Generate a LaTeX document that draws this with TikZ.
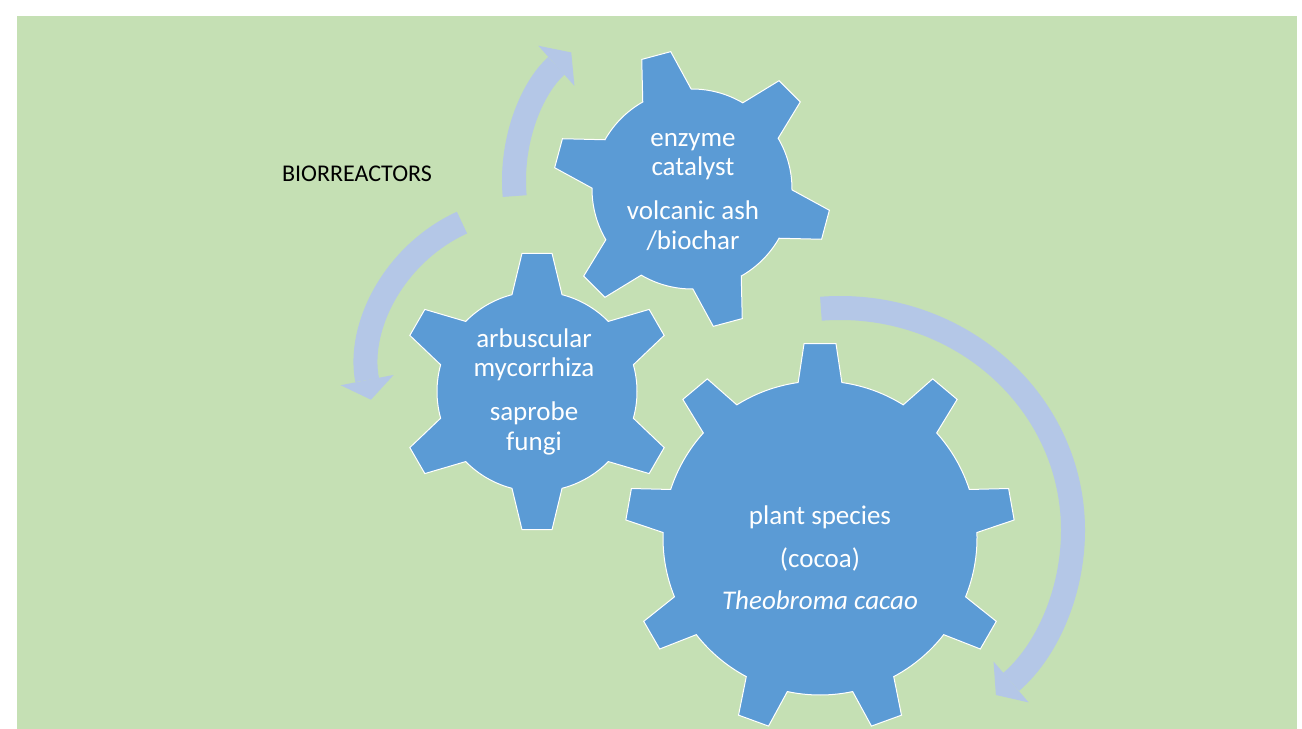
\documentclass[tikz,border=0pt]{standalone}
\usepackage{fontspec}
\setmainfont{Carlito}
\usepackage{tikz}
\usetikzlibrary{arrows.meta}

\definecolor{leaf}{HTML}{C5E0B4}
\definecolor{cog}{HTML}{5B9BD5}
\definecolor{flow}{HTML}{B4C7E7}

% cog outline: #1 teeth, #2 body radius, #3 tip radius,
% #4 half-angle at the root, #5 half-angle at the tip, #6 angle of the first tooth
\newcommand{\cogpath}[6]{%
  ({#6-#4}:#2)
  \foreach \k in {1,...,#1}{
    -- ({#6+(\k-1)*360/#1-#5}:#3) -- ({#6+(\k-1)*360/#1+#5}:#3)
    -- ({#6+(\k-1)*360/#1+#4}:#2)
    arc[start angle={#6+(\k-1)*360/#1+#4}, end angle={#6+\k*360/#1-#4}, radius=#2]
  } -- cycle}

\begin{document}
\begin{tikzpicture}[x=0.75pt, y=0.75pt,
  gear/.style={fill=cog, draw=white, line width=0.75pt},
  gtext/.style={font=\fontsize{20.25}{22.1}\selectfont, text=white, align=center},
  flowarr/.style={draw=flow, line width=18pt,
    -{Triangle[width=40.5pt, length=15pt, line width=0pt]}},
]

% ===== canvas (bottom teeth run off the page) =====
\useasboundingbox (0,0) rectangle (1302,728);
\clip (0,-40) rectangle (1302,728);
\fill[white] (0,-40) rectangle (1302,728);
\fill[leaf] (17,-40) rectangle (1297,712);

\node[font=\fontsize{18}{21}\selectfont] (bio) at (357,554) {BIORREACTORS};

% ===== cycle arrows =====
\coordinate (ca) at (687,547);
\coordinate (cb) at (529,359);
\coordinate (cc) at (840,198);

\draw[flowarr] ([shift={(185:173)}]ca) arc[start angle=185, end angle=132, radius=173];
\draw[flowarr] ([shift={(114.6:161)}]cb) arc[start angle=114.6, end angle=191, radius=161];
\draw[flowarr] ([shift={(94.7:233 and 222)}]cc)
  arc[start angle=94.7, end angle=-48, x radius=233, y radius=222];

% ===== gears =====
\coordinate (g1) at (692,539);
\coordinate (g2) at (537,336.5);
\coordinate (g3) at (820,190);

\path[gear, shift={(g1)}] \cogpath{6}{100}{139}{14.5}{6.2}{-15};
\path[gear, shift={(g2)}] \cogpath{6}{100}{139}{14.5}{6.2}{90};
\path[gear, shift={(g3)}] \cogpath{9}{157}{195}{8}{4.7}{90};

\node[gtext] (t1) at (693,536) {enzyme\\catalyst\\[10.9pt]volcanic ash\\/biochar};
\node[gtext] (t2) at (534,336.5) {arbuscular\\mycorrhiza\\[10.9pt]saprobe\\fungi};
\node[gtext] (t3) at (820,170) {plant species\\[9.8pt](cocoa)\\[9.8pt]\textit{Theobroma cacao}};

\end{tikzpicture}
\end{document}
